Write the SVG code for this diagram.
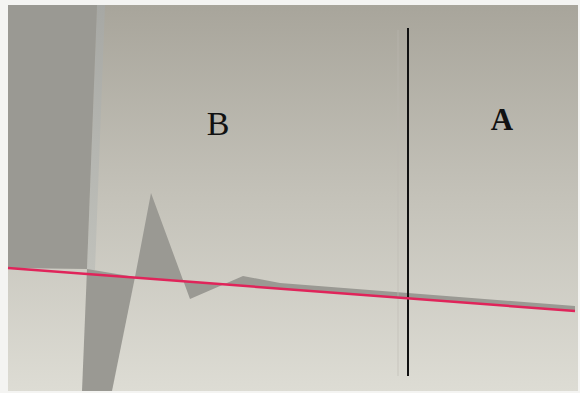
<svg xmlns="http://www.w3.org/2000/svg" width="580" height="393" viewBox="0 0 580 393">
<defs>
<linearGradient id="bg" x1="0" y1="0" x2="0" y2="1">
<stop offset="0" stop-color="#a8a59b"/>
<stop offset="0.5" stop-color="#c4c2b9"/>
<stop offset="1" stop-color="#dddcd4"/>
</linearGradient>
<linearGradient id="hl" x1="0" y1="0" x2="0" y2="1">
<stop offset="0" stop-color="#a7a8a4"/>
<stop offset="1" stop-color="#c0c1bb"/>
</linearGradient>
<style>
.surf{fill:#9a9993}
.lbl{font-family:"Liberation Serif","Times New Roman",serif;fill:#111;text-anchor:middle}
</style>
</defs>
<rect x="0" y="0" width="580" height="393" fill="#f4f4f2"/>
<rect x="8" y="5" width="570" height="386" fill="url(#bg)"/>
<g id="shapes">
<polygon points="97,5 105,5 95,270 87,270" fill="url(#hl)"/>
<polygon class="surf" points="8,5 97,5 87,269 8,268"/>
<polygon class="surf" points="87,269 135,277 112,391 82,391"/>
<polygon class="surf" points="135,277 151,193 190,299 243,276 280,283 575,306 575,311"/>
</g>
<g id="connectors">
<line x1="398" y1="30" x2="398" y2="376" stroke="#bdbbb3" stroke-width="0.6"/>
<line x1="408" y1="28" x2="408" y2="376" stroke="#111" stroke-width="2"/>
<line x1="8" y1="268" x2="575" y2="311" stroke="#e0245a" stroke-width="2.5"/>
</g>
<g id="labelB"><text class="lbl" x="218" y="135" font-size="34">B</text></g>
<g id="labelA"><text class="lbl" x="502" y="130" font-size="31" font-weight="bold">A</text></g>
</svg>
